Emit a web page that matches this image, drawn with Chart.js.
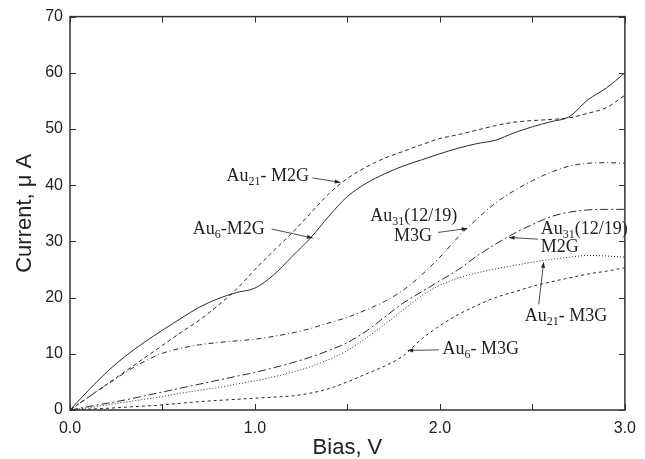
<!DOCTYPE html>
<html>
<head>
<meta charset="utf-8">
<script src="https://cdn.jsdelivr.net/npm/chart.js@4.4.0/dist/chart.umd.min.js"></script>
<style>
  html, body { margin: 0; padding: 0; background: #fff; }
  #wrap { width: 645px; height: 459px; }
</style>
</head>
<body>
<div id="wrap"><canvas id="myChart" width="645" height="459"></canvas></div>
<script>
// bias (V)
var bias = [0.0, 0.1, 0.2, 0.3, 0.4, 0.5, 0.6, 0.7, 0.8, 0.9, 1.0,
            1.1, 1.2, 1.3, 1.4, 1.5, 1.6, 1.7, 1.8, 1.9, 2.0,
            2.1, 2.2, 2.3, 2.4, 2.5, 2.6, 2.7, 2.8, 2.9, 3.0]

// current (uA)
var au6_M2G  = [0, 3.5, 6.8, 9.6, 12.0, 14.2, 16.3, 18.3, 19.8, 20.9, 21.7,
                24.0, 27.3, 30.6, 34.5, 38.0, 40.3, 42.0, 43.4, 44.5, 45.6,
                46.6, 47.4, 48.0, 49.3, 50.4, 51.3, 52.2, 55.2, 57.3, 60.0]
var au21_M2G = [0, 2.3, 4.6, 6.9, 9.2, 11.5, 13.8, 16.0, 18.6, 21.5, 25.0,
                28.3, 31.5, 35.0, 38.5, 41.2, 43.2, 44.8, 46.0, 47.2, 48.3,
                49.0, 49.8, 50.6, 51.2, 51.5, 51.7, 52.0, 52.8, 53.8, 56.0]
var au31_M3G = [0, 2.3, 4.5, 6.7, 8.6, 10.1, 11.0, 11.6, 12.0, 12.3, 12.6,
                13.1, 13.7, 14.5, 15.5, 16.5, 17.8, 19.3, 21.3, 24.0, 27.2,
                30.8, 34.0, 36.8, 39.0, 40.8, 42.3, 43.4, 43.9, 44.0, 43.9]
var au31_M2G = [0, 0.6, 1.2, 1.8, 2.5, 3.2, 3.9, 4.6, 5.3, 6.0, 6.7,
                7.5, 8.4, 9.4, 10.6, 12.0, 14.0, 16.5, 19.0, 21.0, 23.0,
                25.0, 27.4, 29.5, 31.4, 33.0, 34.4, 35.2, 35.6, 35.7, 35.7]
var au21_M3G = [0, 0.4, 0.9, 1.4, 1.9, 2.4, 3.0, 3.5, 4.0, 4.6, 5.2,
                5.9, 6.7, 7.7, 9.0, 10.6, 12.8, 15.2, 17.8, 20.3, 22.2,
                23.5, 24.4, 25.1, 25.7, 26.3, 26.8, 27.2, 27.5, 27.4, 27.2]
var au6_M3G  = [0, 0.15, 0.3, 0.5, 0.7, 0.9, 1.2, 1.5, 1.7, 1.9, 2.1,
                2.3, 2.5, 3.0, 3.8, 5.0, 6.4, 7.8, 9.6, 12.6, 15.0,
                17.0, 18.6, 20.0, 21.0, 22.0, 22.8, 23.5, 24.2, 24.7, 25.3]

var xTicks = [0, 0.5, 1, 1.5, 2, 2.5, 3]
var yTicks = [0, 10, 20, 30, 40, 50, 60, 70]

function pts(arr) {
    return bias.map(function(b, i) { return {x: b, y: arr[i]} })
}

function line(label, arr, dash) {
    return {
        label: label,
        data: pts(arr),
        borderColor: "#2b2b2b",
        borderWidth: 1,
        borderDash: dash,
        pointRadius: 0,
        fill: false,
        cubicInterpolationMode: 'monotone'
    }
}

// callouts: text pieces [text, subscript?], anchored in data units
var notes = [
    {lines: [{at: [0.846, 40.7], parts: [['Au', 0], ['21', 1], ['- M2G', 0]]}],
     from: [1.310, 41.3], to: [1.462, 40.5]},
    {lines: [{at: [0.664, 31.3], parts: [['Au', 0], ['6', 1], ['-M2G', 0]]}],
     from: [1.090, 32.2], to: [1.312, 30.6]},
    {lines: [{at: [1.623, 33.6], parts: [['Au', 0], ['31', 1], ['(12/19)', 0]]},
             {at: [1.752, 30.1], parts: [['M3G', 0]]}],
     from: [1.990, 31.6], to: [2.148, 32.3]},
    {lines: [{at: [2.545, 31.3], parts: [['Au', 0], ['31', 1], ['(12/19)', 0]]},
             {at: [2.545, 28.1], parts: [['M2G', 0]]}],
     from: [2.530, 30.4], to: [2.373, 30.7]},
    {lines: [{at: [2.459, 15.9], parts: [['Au', 0], ['21', 1], ['- M3G', 0]]}],
     from: [2.534, 18.8], to: [2.561, 26.3]},
    {lines: [{at: [2.014, 9.9], parts: [['Au', 0], ['6', 1], ['- M3G', 0]]}],
     from: [1.995, 10.7], to: [1.825, 10.6]}
]

var framePlugin = {
    id: 'frame',
    afterDraw: function(chart) {
        var ctx = chart.ctx
        var a = chart.chartArea
        var xs = chart.scales.x, ys = chart.scales.y
        ctx.save()
        ctx.strokeStyle = "#333"
        ctx.lineWidth = 1.5
        ctx.strokeRect(a.left, a.top, a.right - a.left, a.bottom - a.top)
        ctx.lineWidth = 1
        ctx.beginPath()
        xTicks.forEach(function(v) {
            var px = Math.round(xs.getPixelForValue(v)) + 0.5
            ctx.moveTo(px, a.bottom); ctx.lineTo(px, a.bottom - 6)
            ctx.moveTo(px, a.top); ctx.lineTo(px, a.top + 6)
        })
        yTicks.forEach(function(v) {
            var py = Math.round(ys.getPixelForValue(v)) + 0.5
            ctx.moveTo(a.left, py); ctx.lineTo(a.left + 6, py)
            ctx.moveTo(a.right, py); ctx.lineTo(a.right - 6, py)
        })
        ctx.stroke()
        ctx.restore()
    }
}

var notePlugin = {
    id: 'notes',
    afterDatasetsDraw: function(chart) {
        var ctx = chart.ctx
        var xs = chart.scales.x, ys = chart.scales.y
        ctx.save()
        ctx.fillStyle = "#222"
        ctx.strokeStyle = "#222"
        ctx.textBaseline = 'alphabetic'
        notes.forEach(function(n) {
            n.lines.forEach(function(l) {
                var x = xs.getPixelForValue(l.at[0])
                var y = ys.getPixelForValue(l.at[1])
                l.parts.forEach(function(p) {
                    if (p[1]) {
                        ctx.font = '12px "Liberation Serif", "DejaVu Serif", serif'
                        ctx.fillText(p[0], x, y + 4)
                    } else {
                        ctx.font = '18px "Liberation Serif", "DejaVu Serif", serif'
                        ctx.fillText(p[0], x, y)
                    }
                    x += ctx.measureText(p[0]).width
                })
            })
            var x1 = xs.getPixelForValue(n.from[0]), y1 = ys.getPixelForValue(n.from[1])
            var x2 = xs.getPixelForValue(n.to[0]), y2 = ys.getPixelForValue(n.to[1])
            ctx.lineWidth = 0.8
            ctx.beginPath()
            ctx.moveTo(x1, y1); ctx.lineTo(x2, y2)
            ctx.stroke()
            var ang = Math.atan2(y2 - y1, x2 - x1)
            ctx.beginPath()
            ctx.moveTo(x2, y2)
            ctx.lineTo(x2 - 6 * Math.cos(ang - 0.35), y2 - 6 * Math.sin(ang - 0.35))
            ctx.lineTo(x2 - 6 * Math.cos(ang + 0.35), y2 - 6 * Math.sin(ang + 0.35))
            ctx.closePath()
            ctx.fill()
        })
        ctx.restore()
    }
}

var tickFont = {family: '"Liberation Sans", Arial, sans-serif', size: 16}
var titleFont = {family: '"Liberation Sans", Arial, sans-serif', size: 22}

var chart = new Chart(document.getElementById("myChart").getContext('2d'), {
    type: 'line',
    data: {
        datasets: [
            line("Au6-M2G", au6_M2G, []),
            line("Au21-M2G", au21_M2G, [4, 3]),
            line("Au31(12/19) M3G", au31_M3G, [5, 3, 1, 3]),
            line("Au31(12/19) M2G", au31_M2G, [8, 3, 2, 3]),
            line("Au21-M3G", au21_M3G, [1, 2]),
            line("Au6-M3G", au6_M3G, [3, 3])
        ]
    },
    options: {
        responsive: false,
        animation: false,
        layout: {padding: {top: 14, right: 15, left: 0, bottom: 0}},
        plugins: {legend: {display: false}, tooltip: {enabled: false}},
        scales: {
            x: {
                type: 'linear', min: 0, max: 3,
                afterFit: function(s) { s.height = 49 },
                grid: {display: false, drawTicks: false},
                border: {display: false},
                ticks: {
                    stepSize: 0.5, padding: 9, color: "#222", font: tickFont,
                    maxRotation: 0, autoSkip: false,
                    callback: function(v) { return Number.isInteger(v) ? v.toFixed(1) : '' }
                },
                title: {display: true, text: "Bias, V", color: "#222", font: titleFont, padding: {top: 0, bottom: -2}}
            },
            y: {
                min: 0, max: 70,
                afterFit: function(s) { s.width = 70 },
                grid: {display: false, drawTicks: false},
                border: {display: false},
                ticks: {stepSize: 10, padding: 7, color: "#222", font: tickFont},
                title: {display: true, text: "Current, \u03bc A", color: "#222", font: titleFont, padding: {top: 12, bottom: 0}}
            }
        }
    },
    plugins: [framePlugin, notePlugin]
})
</script>
</body>
</html>
